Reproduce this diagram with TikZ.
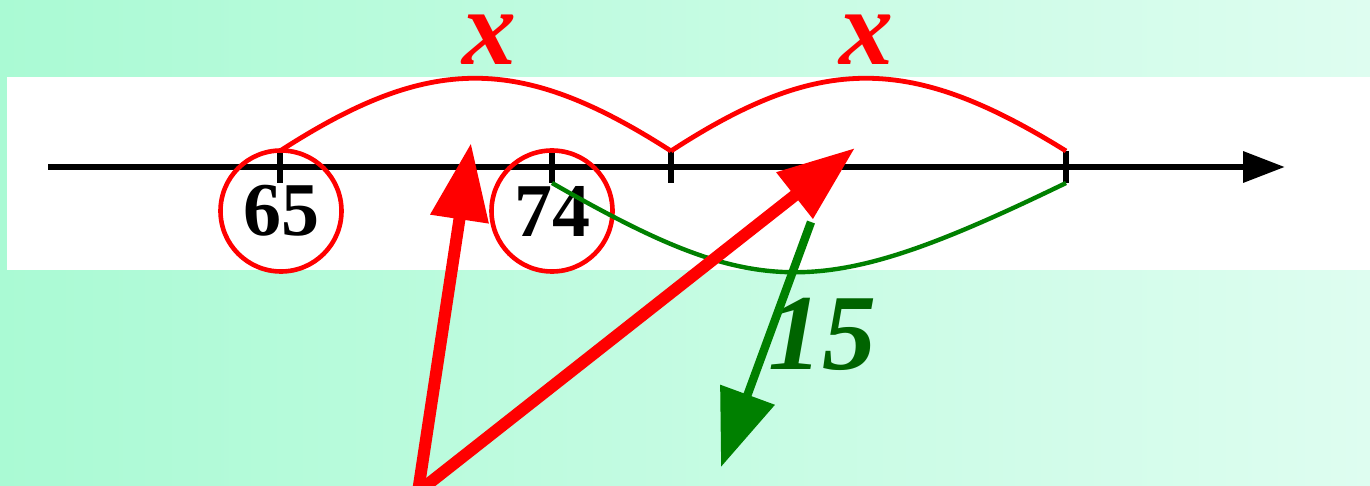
\documentclass[tikz,border=0pt]{standalone}
\usepackage{fontspec}
\setmainfont{Liberation Serif}
\usetikzlibrary{arrows.meta}
\definecolor{bgL}{RGB}{170,250,212}
\definecolor{bgR}{RGB}{222,253,240}
\definecolor{dgreen}{RGB}{0,128,0}
\definecolor{ddgreen}{RGB}{0,100,0}
\begin{document}
\begin{tikzpicture}[x=0.5pt,y=-0.5pt,
  axis/.style={line width=3.3pt,-{Triangle[length=21pt,width=15pt]}},
  tickmark/.style={line width=2.8pt},
  numcirc/.style={circle,draw=red,line width=2.3pt,minimum size=60.5pt,inner sep=0pt,
    font=\fontsize{38}{38}\selectfont\bfseries},
  redarc/.style={red,line width=2.4pt},
  greenarc/.style={dgreen,line width=2.2pt},
  redarrow/.style={red,line width=6pt,-{Triangle[length=38.5pt,width=28pt]}},
  greenarrow/.style={dgreen,line width=4.2pt,-{Triangle[length=38.5pt,width=28pt]}},
  xlab/.style={red,anchor=base,inner sep=0pt,text height=1ex,text depth=0pt,
    font=\fontsize{54}{54}\selectfont\bfseries\itshape},
  lab15/.style={ddgreen,font=\fontsize{54}{54}\selectfont\bfseries\itshape}]
\useasboundingbox (0,0) rectangle (1370,486);
\shade[left color=bgL,right color=bgR] (0,0) rectangle (1370,486);
\fill[white] (7,77) rectangle (1370,270);
% number line
\coordinate (L0) at (48,167);
\coordinate (L1) at (1285,167);
\draw[axis] (L0) -- (L1);
\coordinate (atop) at (280,151); \coordinate (abot) at (280,183);
\coordinate (btop) at (552,151); \coordinate (bbot) at (552,183);
\coordinate (ctop) at (671,151); \coordinate (cbot) at (671,183);
\coordinate (dtop) at (1066,151); \coordinate (dbot) at (1066,183);
\draw[tickmark] (atop) -- (abot);
\draw[tickmark] (btop) -- (bbot);
\draw[tickmark] (ctop) -- (cbot);
\draw[tickmark] (dtop) -- (dbot);
% circled numbers
\node[numcirc] (n65) at (281,211) {65};
\node[numcirc] (n74) at (552,211) {74};
% arcs
\draw[redarc] (atop) .. controls (430,54) and (520,54) .. (ctop);
\draw[redarc] (ctop) .. controls (820,54) and (910,54) .. (dtop);
\draw[greenarc] (bbot) .. controls (760,302) and (820,302) .. (dbot);
% labels
\node[xlab] (x1) at (489,65) {x};
\node[xlab] (x2) at (866,65) {x};
\node[lab15] (n15) at (822,334) {15};
% arrows
\coordinate (apex) at (418,492);
\coordinate (tip1) at (471,143);
\coordinate (tip2) at (855,148);
\draw[redarrow] (apex) -- (tip1);
\draw[redarrow] (apex) -- (tip2);
\coordinate (gs) at (811,222);
\coordinate (gt) at (721,467);
\draw[greenarrow] (gs) -- (gt);
\end{tikzpicture}
\end{document}
